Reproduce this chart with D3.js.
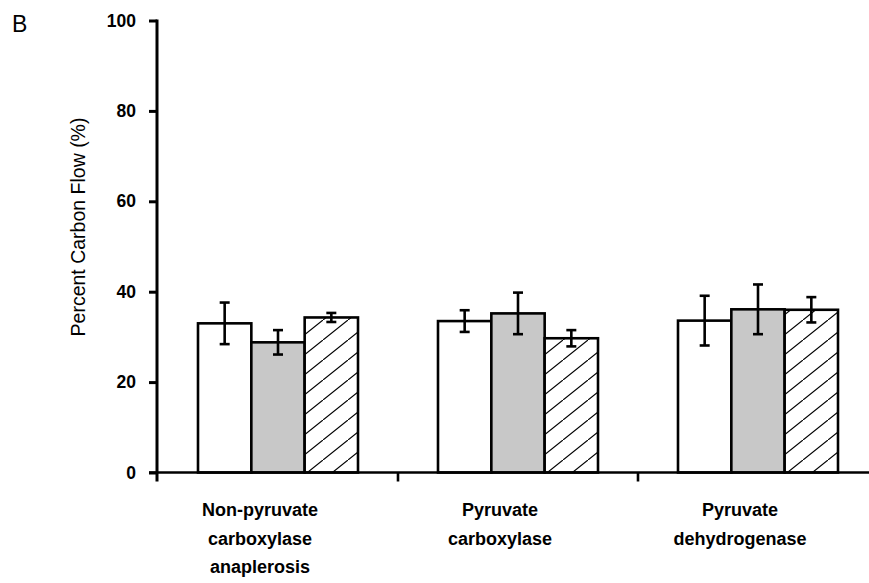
<!DOCTYPE html>
<html>
<head>
<meta charset="utf-8">
<script src="https://cdn.jsdelivr.net/npm/d3@7"></script>
<style>
  body { margin: 0; background: #fff; }
  svg { display: block; font-family: "Liberation Sans", Arial, sans-serif; }
</style>
</head>
<body>
<svg id="chart" width="869" height="583"></svg>
<script>
// categories (label lines) and the three series
const categories = ["Non-pyruvate carboxylase anaplerosis", "Pyruvate carboxylase", "Pyruvate dehydrogenase"]
const categoryLines = [["Non-pyruvate", "carboxylase", "anaplerosis"], ["Pyruvate", "carboxylase"], ["Pyruvate", "dehydrogenase"]]
const seriesNames = ["open", "grey", "hatched"]
const openValues = [33.0, 33.5, 33.6]
const greyValues = [28.8, 35.2, 36.1]
const hatchedValues = [34.3, 29.7, 36.0]
const openErrors = [4.6, 2.4, 5.5]
const greyErrors = [2.7, 4.6, 5.5]
const hatchedErrors = [1.0, 1.8, 2.8]
const yTicks = [0, 20, 40, 60, 80, 100]

const values = [openValues, greyValues, hatchedValues]
const errors = [openErrors, greyErrors, hatchedErrors]

const svg = d3.select('#chart')

// hatch pattern
const defs = svg.append('defs')
const pat = defs.append('pattern')
  .attr('id', 'hatch')
  .attr('patternUnits', 'userSpaceOnUse')
  .attr('width', 25).attr('height', 20)
pat.append('rect').attr('width', 25).attr('height', 20).attr('fill', '#fff')
pat.append('line')
  .attr('x1', -1).attr('y1', 20.8).attr('x2', 26).attr('y2', -0.8)
  .attr('stroke', '#000').attr('stroke-width', 1.2)

const fills = ['#fff', '#c8c8c8', 'url(#hatch)']

// scales
const y = d3.scaleLinear().domain([0, 100]).range([472.5, 20.5])
const x0 = d3.scaleBand().domain(categories).range([158, 878])
  .paddingInner(1 / 3).paddingOuter(1 / 6)
const x1 = d3.scaleBand().domain(seriesNames).range([0, x0.bandwidth()]).padding(0)

const axisX = 157
const gap = (x0.step() - x0.bandwidth()) / 2

// y axis
const yAxis = svg.append('g')
  .attr('transform', `translate(${axisX},0)`)
  .call(d3.axisLeft(y).tickValues(yTicks).tickSize(8).tickPadding(13).tickFormat(d3.format('d')))
yAxis.select('.domain').remove()
yAxis.selectAll('.tick line').attr('stroke', '#000').attr('stroke-width', 3)
yAxis.selectAll('.tick text')
  .attr('font-size', '17.5px').attr('font-weight', 'bold').attr('fill', '#000')
  .attr('font-family', '"Liberation Sans", Arial, sans-serif')

// bars
const groups = svg.append('g').selectAll('g')
  .data(categories)
  .join('g')
  .attr('transform', d => `translate(${x0(d)},0)`)

groups.selectAll('rect')
  .data((c, i) => seriesNames.map((s, j) => ({ s, j, v: values[j][i], e: errors[j][i] })))
  .join('rect')
  .attr('x', d => x1(d.s))
  .attr('y', d => y(d.v))
  .attr('width', x1.bandwidth())
  .attr('height', d => y(0) - y(d.v))
  .attr('fill', d => fills[d.j])
  .attr('stroke', '#000')
  .attr('stroke-width', 2.6)

// error bars
const eb = groups.selectAll('g.err')
  .data((c, i) => seriesNames.map((s, j) => ({ s, j, v: values[j][i], e: errors[j][i] })))
  .join('g').attr('class', 'err')
  .attr('transform', d => `translate(${x1(d.s) + x1.bandwidth() / 2},0)`)
eb.append('line')
  .attr('y1', d => y(d.v + d.e)).attr('y2', d => y(d.v - d.e))
  .attr('stroke', '#000').attr('stroke-width', 2.6)
eb.append('line')
  .attr('x1', -5).attr('x2', 5)
  .attr('y1', d => y(d.v + d.e)).attr('y2', d => y(d.v + d.e))
  .attr('stroke', '#000').attr('stroke-width', 2.6)
eb.append('line')
  .attr('x1', -5).attr('x2', 5)
  .attr('y1', d => y(d.v - d.e)).attr('y2', d => y(d.v - d.e))
  .attr('stroke', '#000').attr('stroke-width', 2.6)

// y axis line (runs a bit below the x axis)
svg.append('line')
  .attr('x1', axisX).attr('x2', axisX)
  .attr('y1', y(100) - 1).attr('y2', y(0) + 9)
  .attr('stroke', '#000').attr('stroke-width', 3)

// x axis line and category ticks
svg.append('line')
  .attr('x1', axisX - 8).attr('x2', 869)
  .attr('y1', y(0)).attr('y2', y(0))
  .attr('stroke', '#000').attr('stroke-width', 2.6)
svg.append('g').selectAll('line')
  .data(categories.slice(1))
  .join('line')
  .attr('x1', d => x0(d) - gap).attr('x2', d => x0(d) - gap)
  .attr('y1', y(0)).attr('y2', y(0) + 9)
  .attr('stroke', '#000').attr('stroke-width', 2.6)

// category labels
svg.append('g').selectAll('text')
  .data(categories)
  .join('text')
  .attr('x', d => x0(d) + x0.bandwidth() / 2 - 18)
  .attr('y', 516)
  .attr('text-anchor', 'middle')
  .attr('font-size', '18px').attr('font-weight', 'bold')
  .selectAll('tspan')
  .data((d, i) => categoryLines[i])
  .join('tspan')
  .attr('x', function () { return this.parentNode.getAttribute('x') })
  .attr('dy', (d, i) => i === 0 ? 0 : 28.5)
  .text(d => d)

// y axis title
svg.append('text')
  .attr('transform', 'translate(85,227) rotate(-90)')
  .attr('text-anchor', 'middle')
  .attr('font-size', '19.5px')
  .text('Percent Carbon Flow (%)')

// panel letter
svg.append('text')
  .attr('x', 12).attr('y', 32)
  .attr('font-size', '23px')
  .text('B')
</script>
</body>
</html>
